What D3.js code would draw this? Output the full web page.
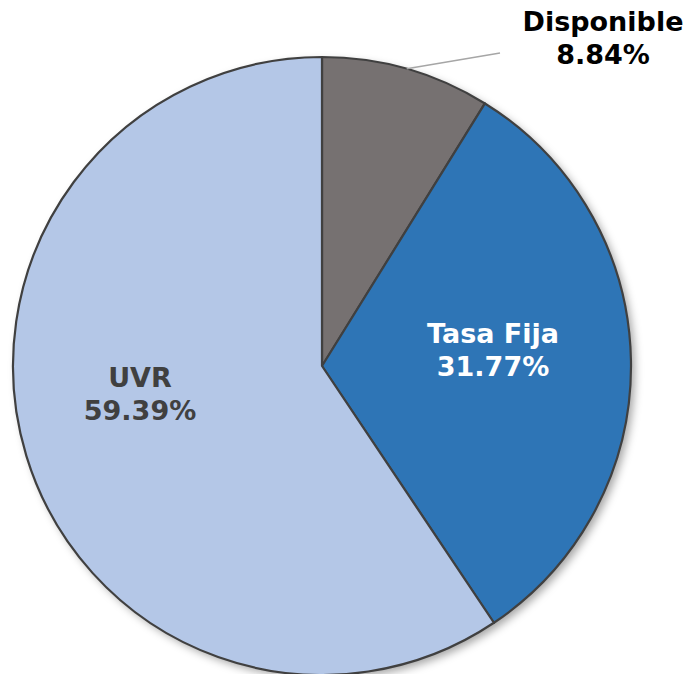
<!DOCTYPE html>
<html>
<head>
<meta charset="utf-8">
<title>Pie</title>
<script src="https://d3js.org/d3.v7.min.js"></script>
<style>
  body { margin: 0; background: #fff; }
  text { font-family: "DejaVu Sans", Verdana, sans-serif; font-weight: bold; }
</style>
</head>
<body>
<div id="chart"></div>
<script>
var categories = ["Disponible", "Tasa Fija", "UVR"]
var values = [8.84, 31.77, 59.39]
var colors = ["#767171", "#2E75B6", "#B4C7E7"]
var labelColors = ["#000000", "#ffffff", "#404040"]

var width = 689, height = 674
var cx = 322, cy = 366, r = 309

var svg = d3.select("#chart").append("svg")
    .attr("width", width)
    .attr("height", height)

var defs = svg.append("defs")
var f = defs.append("filter").attr("id", "shadow")
    .attr("x", "-10%").attr("y", "-10%").attr("width", "125%").attr("height", "125%")
f.append("feDropShadow")
    .attr("dx", 4).attr("dy", 4).attr("stdDeviation", 4)
    .attr("flood-color", "#000").attr("flood-opacity", 0.35)

var data = categories.map(function (c, i) { return {name: c, value: values[i], i: i} })

var pie = d3.pie().sort(null).value(function (d) { return d.value })
var arcs = pie(data)
var arc = d3.arc().innerRadius(0).outerRadius(r)

var g = svg.append("g").attr("transform", "translate(" + cx + "," + cy + ")")

g.append("circle").attr("r", r).attr("fill", "#fff").attr("filter", "url(#shadow)")

g.selectAll("path.slice")
  .data(arcs)
  .enter()
  .append("path")
    .attr("class", "slice")
    .attr("d", arc)
    .attr("fill", function (d) { return colors[d.data.i] })
    .attr("stroke", "#404040")
    .attr("stroke-width", 2.2)
    .attr("stroke-linejoin", "round")

// label positions (in chart pixels)
var labelPos = [[603, 22], [493, 334], [140, 378]]
var labelSize = 27

// leader line for Disponible
var a0 = arcs[0]
var mid = (a0.startAngle + a0.endAngle) / 2
svg.append("polyline")
    .attr("points", [
      [cx + r * Math.sin(mid), cy - r * Math.cos(mid)],
      [500, 53]
    ].map(function (p) { return p.join(",") }).join(" "))
    .attr("fill", "none")
    .attr("stroke", "#a6a6a6")
    .attr("stroke-width", 1.5)

arcs.forEach(function (d, k) {
  var t = svg.append("text")
      .attr("x", labelPos[k][0])
      .attr("y", labelPos[k][1])
      .attr("text-anchor", "middle")
      .attr("fill", labelColors[k])
      .style("font-size", labelSize + "px")
  t.append("tspan").attr("x", labelPos[k][0]).attr("dy", "0.35em").text(d.data.name)
  t.append("tspan").attr("x", labelPos[k][0]).attr("dy", "1.22em").text(d.data.value.toFixed(2) + "%")
})
</script>
</body>
</html>
